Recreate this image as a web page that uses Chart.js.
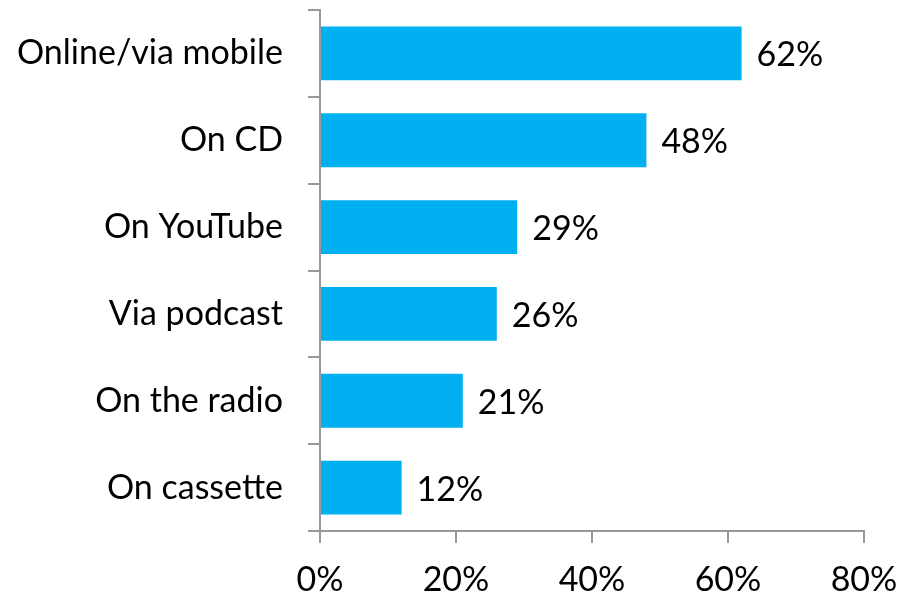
<!DOCTYPE html>
<html>
<head>
<meta charset="utf-8">
<script src="https://cdn.jsdelivr.net/npm/chart.js@4.4.0/dist/chart.umd.min.js"></script>
<style>
  html, body { margin: 0; padding: 0; background: #ffffff; }
  #wrap { width: 901px; height: 594px; }
</style>
</head>
<body>
<div id="wrap"><canvas id="listenChart" width="901" height="594"></canvas></div>
<script>
// Where people listen
const channels = ['Online/via mobile', 'On CD', 'On YouTube', 'Via podcast', 'On the radio', 'On cassette'];
const shares = [62, 48, 29, 26, 21, 12];
const axisTicks = [0, 20, 40, 60, 80];

const FONT = 'Lato, "Open Sans", sans-serif';
const AXIS_GREY = '#999999';

// writes "NN%" just past the end of each bar
const valueLabels = {
  id: 'valueLabels',
  afterDatasetsDraw(chart) {
    const ctx = chart.ctx;
    const meta = chart.getDatasetMeta(0);
    ctx.save();
    ctx.font = '34px ' + FONT;
    ctx.fillStyle = '#000000';
    ctx.textAlign = 'left';
    ctx.textBaseline = 'middle';
    meta.data.forEach((bar, i) => {
      ctx.fillText(shares[i] + '%', bar.x + 15, bar.y + 2);
    });
    ctx.restore();
  }
};

new Chart(document.getElementById('listenChart').getContext('2d'), {
  type: 'bar',
  data: {
    labels: channels,
    datasets: [{
      data: shares,
      backgroundColor: '#00B0F0',
      borderWidth: 0,
      categoryPercentage: 1,
      barPercentage: 0.62
    }]
  },
  options: {
    indexAxis: 'y',
    responsive: false,
    devicePixelRatio: 1,
    animation: false,
    layout: { padding: { top: 10, right: 37, bottom: 0, left: 0 } },
    plugins: {
      legend: { display: false },
      tooltip: { enabled: false }
    },
    scales: {
      x: {
        min: 0,
        max: 80,
        afterFit(scale) {
          scale.height = 63;
          // let "80%" hang past the plot edge
          scale.paddingLeft = 0;
          scale.paddingRight = 0;
        },
        afterBuildTicks(scale) { scale.ticks = axisTicks.map(v => ({ value: v })); },
        border: { display: true, color: AXIS_GREY, width: 2 },
        grid: { display: true, drawOnChartArea: false, drawTicks: true, tickLength: 12, color: AXIS_GREY, lineWidth: 2 },
        ticks: {
          color: '#000000',
          font: { family: FONT, size: 34 },
          padding: 17,
          maxRotation: 0,
          callback: v => v + '%'
        }
      },
      y: {
        afterFit(scale) {
          scale.width = 320;
          // the label gap should not push the plot down
          scale.paddingTop = 0;
          scale.paddingBottom = 0;
        },
        border: { display: true, color: AXIS_GREY, width: 2 },
        grid: { display: true, offset: true, drawOnChartArea: false, drawTicks: true, tickLength: 12, color: AXIS_GREY, lineWidth: 2 },
        ticks: {
          color: '#000000',
          font: { family: FONT, size: 34 },
          padding: 25
        }
      }
    }
  },
  plugins: [valueLabels]
});
</script>
</body>
</html>
